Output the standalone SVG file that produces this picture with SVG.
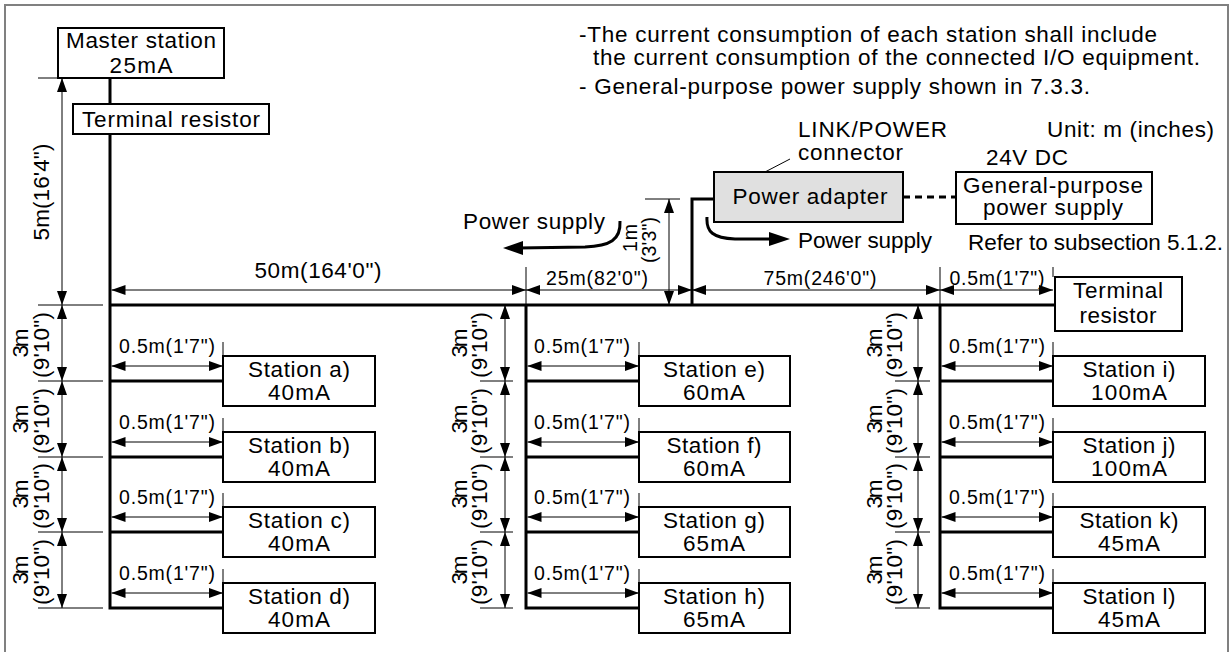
<svg xmlns="http://www.w3.org/2000/svg" width="1230" height="652" viewBox="0 0 1230 652">
<style>
text{font-family:"Liberation Sans",Arial,sans-serif;fill:#000}
.t{font-size:22.5px}
.s{font-size:19.5px}
.m{text-anchor:middle}
.box{fill:#fff;stroke:#000;stroke-width:2}
.bus{fill:none;stroke:#000;stroke-width:3}
.dim{fill:none;stroke:#000;stroke-width:1;marker-start:url(#ar);marker-end:url(#ar)}
.ext{fill:none;stroke:#000;stroke-width:1}
</style>
<defs>
<marker id="ar" viewBox="0 0 14 10" refX="14" refY="5" markerWidth="14" markerHeight="10" markerUnits="userSpaceOnUse" orient="auto-start-reverse"><path d="M0,0L14,5L0,10z" fill="#000"/></marker>
<marker id="op" viewBox="0 0 12 8" refX="12" refY="4" markerWidth="12" markerHeight="8" markerUnits="userSpaceOnUse" orient="auto"><path d="M0,0L12,4L0,8" fill="none" stroke="#000" stroke-width="1"/></marker>
</defs>
<rect x="5" y="5" width="1223" height="700" fill="none" stroke="#808080" stroke-width="2"/>

<g id="notes">
<text class="t" x="579" y="42" textLength="578">-The current consumption of each station shall include</text>
<text class="t" x="593" y="65" textLength="607">the current consumption of the connected I/O equipment.</text>
<text class="t" x="579" y="94" textLength="511">- General-purpose power supply shown in 7.3.3.</text>
<text class="t" x="1047" y="137" textLength="167">Unit: m (inches)</text>
</g>

<g id="connectors">
<path class="bus" d="M110,78V608H223"/>
<path class="bus" d="M110,305H1055"/>
<path class="bus" d="M526,305V608H639"/>
<path class="bus" d="M940,305V608H1053"/>
<path class="bus" d="M692,305V199H714"/>
<path class="bus" d="M110,381H223M110,457H223M110,532H223"/>
<path class="bus" d="M526,381H639M526,457H639M526,532H639"/>
<path class="bus" d="M940,381H1053M940,457H1053M940,532H1053"/>
<path d="M903,197H956" fill="none" stroke="#000" stroke-width="3" stroke-dasharray="7,5"/>
<path d="M620,221C621,240 610,246 585,247L518,248" fill="none" stroke="#000" stroke-width="3"/>
<path d="M503,248L523,241L523,255z" fill="#000"/>
<path d="M707,217C706,232 713,238 735,239L772,239" fill="none" stroke="#000" stroke-width="3"/>
<path d="M790,239L769,232L769,246z" fill="#000"/>
<path d="M790,159L715,198" fill="none" stroke="#000" stroke-width="1" marker-end="url(#op)"/>

<path class="ext" d="M526,267V305M940,267V305M1053,267V277M645,199H680"/>
<path class="dim" d="M111.5,290H526"/>
<path class="dim" d="M526,290H692"/>
<path class="dim" d="M692,290H940"/>
<path class="dim" d="M940,290H1053"/>
<path class="dim" d="M669,199V305"/>
<path class="ext" d="M38,78H58M38,305H103M38,381H103M38,457H103M38,532H103M38,608H103"/>
<path class="dim" d="M62,78V305"/>
<path class="dim" d="M62,305V381"/><path class="dim" d="M62,381V457"/><path class="dim" d="M62,457V532"/><path class="dim" d="M62,532V608"/>
<path class="ext" d="M480,381H513M480,457H513M480,532H513M480,608H513"/>
<path class="dim" d="M505,305V381"/><path class="dim" d="M505,381V457"/><path class="dim" d="M505,457V532"/><path class="dim" d="M505,532V608"/>
<path class="ext" d="M895,381H930M895,457H930M895,532H930M895,608H930"/>
<path class="dim" d="M918,305V381"/><path class="dim" d="M918,381V457"/><path class="dim" d="M918,457V532"/><path class="dim" d="M918,532V608"/>
<path class="ext" d="M223,342V356M223,418V432M223,493V507M223,569V583"/>
<path class="ext" d="M639,342V356M639,418V432M639,493V507M639,569V583"/>
<path class="ext" d="M1053,342V356M1053,418V432M1053,493V507M1053,569V583"/>
<path class="dim" d="M111.5,366H223"/><path class="dim" d="M111.5,442H223"/><path class="dim" d="M111.5,517H223"/><path class="dim" d="M111.5,593H223"/>
<path class="dim" d="M527.5,366H639"/><path class="dim" d="M527.5,442H639"/><path class="dim" d="M527.5,517H639"/><path class="dim" d="M527.5,593H639"/>
<path class="dim" d="M941.5,366H1053"/><path class="dim" d="M941.5,442H1053"/><path class="dim" d="M941.5,517H1053"/><path class="dim" d="M941.5,593H1053"/>

<text class="t m" x="318" y="278" textLength="127">50m(164'0")</text>
<text class="s m" x="597" y="285" textLength="102">25m(82'0")</text>
<text class="s m" x="820" y="285" textLength="113">75m(246'0")</text>
<text class="s m" x="997" y="285" textLength="95">0.5m(1'7")</text>
<text class="t m" transform="translate(49,192) rotate(-90)" textLength="97">5m(16'4")</text>
<text class="s m" transform="translate(637,238) rotate(-90)" textLength="28">1m</text>
<text class="s m" transform="translate(656,240) rotate(-90)" textLength="46">(3'3")</text>
<text class="s m" x="167" y="353" textLength="96">0.5m(1'7")</text><text class="s m" x="167" y="429" textLength="96">0.5m(1'7")</text><text class="s m" x="167" y="504" textLength="96">0.5m(1'7")</text><text class="s m" x="167" y="580" textLength="96">0.5m(1'7")</text>
<text class="s m" x="582" y="353" textLength="96">0.5m(1'7")</text><text class="s m" x="582" y="429" textLength="96">0.5m(1'7")</text><text class="s m" x="582" y="504" textLength="96">0.5m(1'7")</text><text class="s m" x="582" y="580" textLength="96">0.5m(1'7")</text>
<text class="s m" x="997" y="353" textLength="96">0.5m(1'7")</text><text class="s m" x="997" y="429" textLength="96">0.5m(1'7")</text><text class="s m" x="997" y="504" textLength="96">0.5m(1'7")</text><text class="s m" x="997" y="580" textLength="96">0.5m(1'7")</text>
<text class="t m" transform="translate(28,343) rotate(-90)" textLength="29">3m</text><text class="t m" transform="translate(49,345) rotate(-90)" textLength="66">(9'10")</text>
<text class="t m" transform="translate(28,419) rotate(-90)" textLength="29">3m</text><text class="t m" transform="translate(49,421) rotate(-90)" textLength="66">(9'10")</text>
<text class="t m" transform="translate(28,494) rotate(-90)" textLength="29">3m</text><text class="t m" transform="translate(49,496) rotate(-90)" textLength="66">(9'10")</text>
<text class="t m" transform="translate(28,570) rotate(-90)" textLength="29">3m</text><text class="t m" transform="translate(49,572) rotate(-90)" textLength="66">(9'10")</text>
<text class="t m" transform="translate(467,343) rotate(-90)" textLength="29">3m</text><text class="t m" transform="translate(487,345) rotate(-90)" textLength="66">(9'10")</text>
<text class="t m" transform="translate(467,419) rotate(-90)" textLength="29">3m</text><text class="t m" transform="translate(487,421) rotate(-90)" textLength="66">(9'10")</text>
<text class="t m" transform="translate(467,494) rotate(-90)" textLength="29">3m</text><text class="t m" transform="translate(487,496) rotate(-90)" textLength="66">(9'10")</text>
<text class="t m" transform="translate(467,570) rotate(-90)" textLength="29">3m</text><text class="t m" transform="translate(487,572) rotate(-90)" textLength="66">(9'10")</text>
<text class="t m" transform="translate(882,343) rotate(-90)" textLength="29">3m</text><text class="t m" transform="translate(902,345) rotate(-90)" textLength="66">(9'10")</text>
<text class="t m" transform="translate(882,419) rotate(-90)" textLength="29">3m</text><text class="t m" transform="translate(902,421) rotate(-90)" textLength="66">(9'10")</text>
<text class="t m" transform="translate(882,494) rotate(-90)" textLength="29">3m</text><text class="t m" transform="translate(902,496) rotate(-90)" textLength="66">(9'10")</text>
<text class="t m" transform="translate(882,570) rotate(-90)" textLength="29">3m</text><text class="t m" transform="translate(902,572) rotate(-90)" textLength="66">(9'10")</text>

<text class="t" x="463" y="229" textLength="142">Power supply</text>
<text class="t" x="798" y="248" textLength="134">Power supply</text>
<text class="t" x="798" y="137" textLength="149">LINK/POWER</text>
<text class="t" x="798" y="160" textLength="105">connector</text>
<text class="t" x="986" y="165" textLength="82">24V DC</text>
<text class="t" x="968" y="250" textLength="255">Refer to subsection 5.1.2.</text>
</g>

<g id="master"><rect class="box" x="58" y="28" width="166" height="50"/><text class="t m" x="141" y="48" textLength="150">Master station</text><text class="t m" x="141" y="73" textLength="63">25mA</text></g>
<g id="terminal-top"><rect class="box" x="73" y="104" width="196" height="30"/><text class="t m" x="171" y="127" textLength="178">Terminal resistor</text></g>
<g id="power-adapter"><rect x="714" y="172" width="189" height="50" fill="#e0e0e0" stroke="#000" stroke-width="2"/><text class="t m" x="810" y="204" textLength="155">Power adapter</text></g>
<g id="gp-supply"><rect class="box" x="956" y="172" width="196" height="52"/><text class="t m" x="1053" y="193" textLength="180">General-purpose</text><text class="t m" x="1053" y="215" textLength="140">power supply</text></g>
<g id="terminal-right"><rect class="box" x="1055" y="277" width="127" height="54"/><text class="t m" x="1118" y="298" textLength="90">Terminal</text><text class="t m" x="1118" y="323" textLength="77">resistor</text></g>

<g id="station-a"><rect class="box" x="223" y="356" width="152" height="50"/><text class="t m" x="299" y="377" textLength="102">Station a)</text><text class="t m" x="299" y="400" textLength="62">40mA</text></g>
<g id="station-b"><rect class="box" x="223" y="432" width="152" height="50"/><text class="t m" x="299" y="453" textLength="102">Station b)</text><text class="t m" x="299" y="476" textLength="62">40mA</text></g>
<g id="station-c"><rect class="box" x="223" y="507" width="152" height="50"/><text class="t m" x="299" y="528" textLength="102">Station c)</text><text class="t m" x="299" y="551" textLength="62">40mA</text></g>
<g id="station-d"><rect class="box" x="223" y="583" width="152" height="50"/><text class="t m" x="299" y="604" textLength="102">Station d)</text><text class="t m" x="299" y="627" textLength="62">40mA</text></g>
<g id="station-e"><rect class="box" x="639" y="356" width="151" height="50"/><text class="t m" x="714" y="377" textLength="102">Station e)</text><text class="t m" x="714" y="400" textLength="62">60mA</text></g>
<g id="station-f"><rect class="box" x="639" y="432" width="151" height="50"/><text class="t m" x="714" y="453" textLength="95">Station f)</text><text class="t m" x="714" y="476" textLength="62">60mA</text></g>
<g id="station-g"><rect class="box" x="639" y="507" width="151" height="50"/><text class="t m" x="714" y="528" textLength="102">Station g)</text><text class="t m" x="714" y="551" textLength="62">65mA</text></g>
<g id="station-h"><rect class="box" x="639" y="583" width="151" height="50"/><text class="t m" x="714" y="604" textLength="102">Station h)</text><text class="t m" x="714" y="627" textLength="62">65mA</text></g>
<g id="station-i"><rect class="box" x="1053" y="356" width="152" height="50"/><text class="t m" x="1129" y="377" textLength="93">Station i)</text><text class="t m" x="1129" y="400" textLength="76">100mA</text></g>
<g id="station-j"><rect class="box" x="1053" y="432" width="152" height="50"/><text class="t m" x="1129" y="453" textLength="93">Station j)</text><text class="t m" x="1129" y="476" textLength="76">100mA</text></g>
<g id="station-k"><rect class="box" x="1053" y="507" width="152" height="50"/><text class="t m" x="1129" y="528" textLength="99">Station k)</text><text class="t m" x="1129" y="551" textLength="62">45mA</text></g>
<g id="station-l"><rect class="box" x="1053" y="583" width="152" height="50"/><text class="t m" x="1129" y="604" textLength="93">Station l)</text><text class="t m" x="1129" y="627" textLength="62">45mA</text></g>
</svg>
